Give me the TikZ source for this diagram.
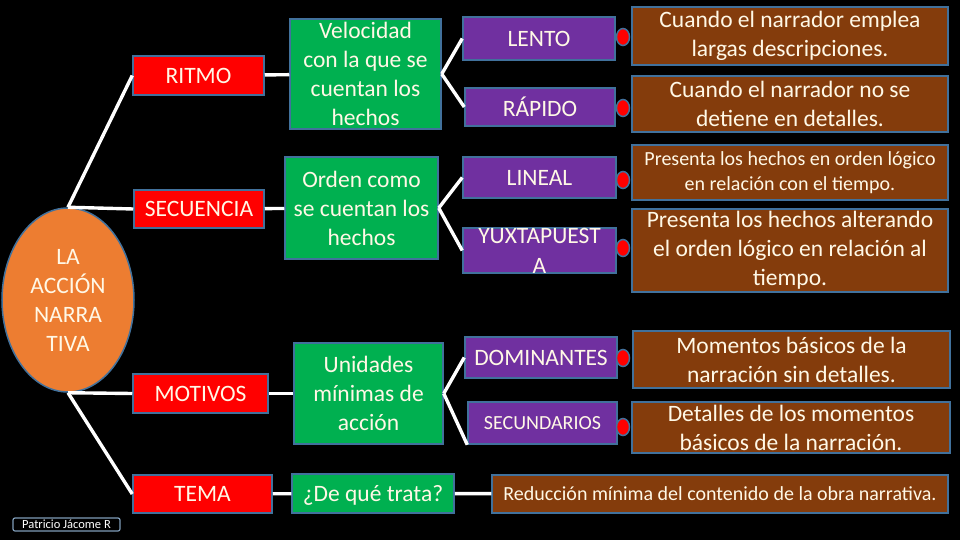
\documentclass[tikz,border=0pt]{standalone}
\usepackage{fontspec}
\setmainfont{Carlito}
\usepackage{xcolor}
\usetikzlibrary{shapes.geometric}

\definecolor{edgeblue}{HTML}{41719C}
\definecolor{topicred}{HTML}{FF0000}
\definecolor{descgreen}{HTML}{00B050}
\definecolor{kindpurple}{HTML}{7030A0}
\definecolor{notebrown}{HTML}{843C0C}
\definecolor{mainorange}{HTML}{ED7D31}
\definecolor{textcream}{HTML}{FFF8E6}
\definecolor{signedge}{HTML}{7F9CB8}

\begin{document}
\begin{tikzpicture}[
    x=1pt, y=-1pt,
    font=\fontsize{23.5}{29}\selectfont,
    basebox/.style={draw=edgeblue, line width=1.5pt, text=textcream, align=center, inner sep=0pt},
    topicbox/.style={basebox, fill=topicred},
    descbox/.style={basebox, fill=descgreen},
    kindbox/.style={basebox, fill=kindpurple},
    notebox/.style={basebox, fill=notebrown},
    smalltext/.style={font=\fontsize{20}{24.5}\selectfont},
    link/.style={draw=white, line width=3.4pt},
    dot/.style={ellipse, draw=edgeblue, fill=red, line width=1.5pt, minimum width=13pt, minimum height=17pt, inner sep=0pt}
]

    \fill[black] (0,0) rectangle (960,540);

    \node[ellipse, basebox, fill=mainorange, minimum width=132pt, minimum height=184pt] (accion) at (68,300) {LA\\ACCIÓN\\NARRA\\TIVA};

    \node[topicbox, minimum width=131pt, minimum height=39pt] (ritmo) at (198.5,75.5) {RITMO};
    \node[topicbox, minimum width=130pt, minimum height=38pt] (secuencia) at (199,209) {SECUENCIA};
    \node[topicbox, minimum width=135pt, minimum height=39pt] (motivos) at (200.5,393.5) {MOTIVOS};
    \node[topicbox, minimum width=139pt, minimum height=38pt] (tema) at (202.5,494) {TEMA};

    \node[descbox, minimum width=151pt, minimum height=110pt] (velocidad) at (365.5,74) {Velocidad\\con la que se\\cuentan los\\hechos};
    \node[descbox, minimum width=153pt, minimum height=102pt] (orden) at (361.5,208) {Orden como\\se cuentan los\\hechos};
    \node[descbox, minimum width=149pt, minimum height=101pt] (unidades) at (368.5,393.5) {Unidades\\mínimas de\\acción};
    \node[descbox, minimum width=162pt, minimum height=39pt, text height=15pt, text depth=0pt] (dequetrata) at (373,493.5) {¿De qué trata?};

    \node[kindbox, minimum width=152pt, minimum height=43pt] (lento) at (539,38.5) {LENTO};
    \node[kindbox, minimum width=150pt, minimum height=38pt] (rapido) at (540,107) {RÁPIDO};
    \node[kindbox, minimum width=153pt, minimum height=41pt] (lineal) at (539.5,177.5) {LINEAL};
    \node[kindbox, minimum width=153pt, minimum height=45pt, font=\fontsize{23.5}{30}\selectfont] (yuxta) at (539.5,250.5) {YUXTAPUEST\\A};
    \node[kindbox, minimum width=152pt, minimum height=41pt] (dominantes) at (541,357.5) {DOMINANTES};
    \node[kindbox, smalltext, minimum width=149pt, minimum height=42pt] (secundarios) at (542.5,423) {SECUNDARIOS};

    \node[dot] (d1) at (623,37) {};
    \node[dot] (d2) at (623,108) {};
    \node[dot] (d3) at (623,180) {};
    \node[dot] (d4) at (623,248) {};
    \node[dot] (d5) at (623,358) {};
    \node[dot] (d6) at (623,427) {};

    \node[notebox, minimum width=316pt, minimum height=58pt] (n1) at (790,36) {Cuando el narrador emplea\\largas descripciones.};
    \node[notebox, minimum width=316pt, minimum height=56pt] (n2) at (790,104) {Cuando el narrador no se\\detiene en detalles.};
    \node[notebox, smalltext, minimum width=316pt, minimum height=55pt] (n3) at (790,172.5) {Presenta los hechos en orden lógico\\en relación con el tiempo.};
    \node[notebox, minimum width=316pt, minimum height=83pt] (n4) at (790,250.5) {Presenta los hechos alterando\\el orden lógico en relación al\\tiempo.};
    \node[notebox, minimum width=317pt, minimum height=57pt] (n5) at (791.5,359.5) {Momentos básicos de la\\narración sin detalles.};
    \node[notebox, minimum width=318pt, minimum height=51pt] (n6) at (791,427.5) {Detalles de los momentos\\básicos de la narración.};
    \node[notebox, smalltext, minimum width=456pt, minimum height=38pt] (n7) at (720,494) {Reducción mínima del contenido de la obra narrativa.};

    \node[draw=signedge, line width=1.2pt, fill=black, rounded corners=2pt, text=white, inner sep=0pt, minimum width=107pt, minimum height=13pt, font=\fontsize{12.5}{12.5}\selectfont] (firma) at (66.5,524.5) {Patricio Jácome R};

    \draw[link] (accion.north) -- (ritmo.west);
    \draw[link] (accion.north) -- (secuencia.west);
    \draw[link] (accion.south) -- (motivos.west);
    \draw[link] (accion.south) -- (tema.west);

    \draw[link] (ritmo) -- (velocidad);
    \draw[link] (secuencia) -- (orden);
    \draw[link] (motivos) -- (unidades);
    \draw[link] (tema) -- (dequetrata);

    \draw[link] (velocidad.east) -- (lento.west);
    \draw[link] (velocidad.east) -- (rapido.west);
    \draw[link] (orden.east) -- (lineal.west);
    \draw[link] (orden.east) -- (yuxta.west);
    \draw[link] (unidades.east) -- (dominantes.west);
    \draw[link] (unidades.east) -- (secundarios.south west);
    \draw[link] (dequetrata) -- (n7);

\end{tikzpicture}
\end{document}
